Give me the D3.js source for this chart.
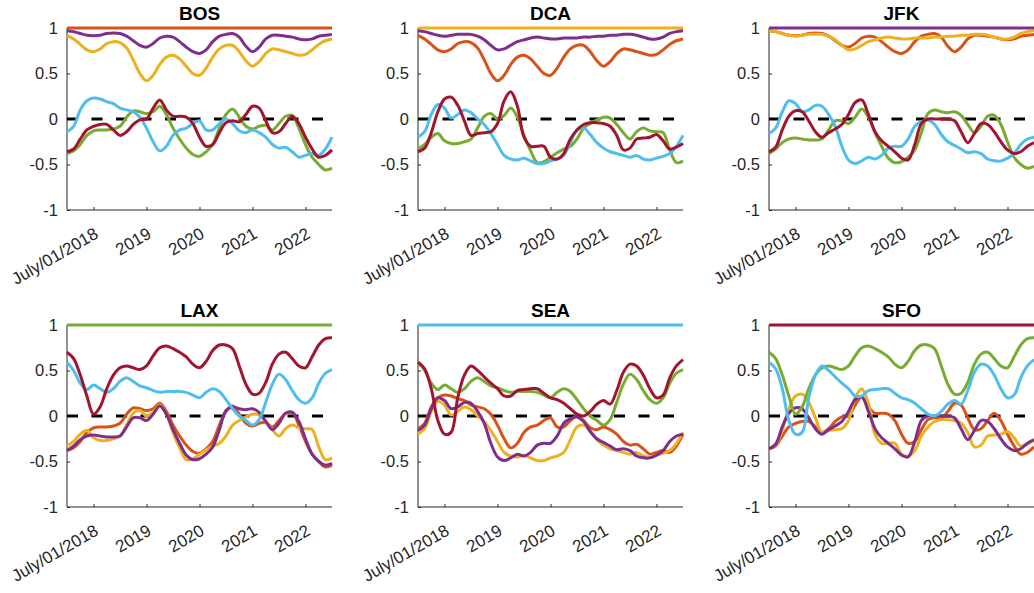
<!DOCTYPE html>
<html>
<head>
<meta charset="utf-8">
<script src="https://cdn.jsdelivr.net/npm/d3@7"></script>
<style>
  body { margin: 0; background: #fff; }
  svg { display: block; }
  text { font-family: "Liberation Sans", Arial, Helvetica, sans-serif; fill: #262626; }
</style>
</head>
<body>
<svg id="chart" width="1034" height="593"></svg>
<script>
// Rolling correlation between airport series, one panel per airport.
const airports = ["BOS", "DCA", "JFK", "LAX", "SEA", "SFO"];
const colors = ["#D95319", "#EDB120", "#7E2F8E", "#77AC30", "#4DBEEE", "#A2142F"];

const xTickValues = [1, 3, 5, 7, 9];
const xTickLabels = ["July/01/2018", "2019", "2020", "2021", "2022"];
const yTickValues = [-1, -0.5, 0, 0.5, 1];
const yTickLabels = ["-1", "-0.5", "0", "0.5", "1"];

// sample positions on the index axis (quarter steps from 0 to 10)
const samplePos = [0, 0.25, 0.5, 0.75, 1, 1.25, 1.5, 1.75, 2, 2.25, 2.5, 2.75, 3, 3.25, 3.5, 3.75,
  4, 4.25, 4.5, 4.75, 5, 5.25, 5.5, 5.75, 6, 6.25, 6.5, 6.75, 7, 7.25, 7.5, 7.75,
  8, 8.25, 8.5, 8.75, 9, 9.25, 9.5, 9.75, 10];

// correlation of an airport with itself
const SELF = [1, 1, 1, 1, 1, 1, 1, 1, 1, 1, 1, 1, 1, 1, 1, 1, 1, 1, 1, 1, 1,
  1, 1, 1, 1, 1, 1, 1, 1, 1, 1, 1, 1, 1, 1, 1, 1, 1, 1, 1, 1];

// pairwise correlations (symmetric)
const BOS_DCA = [0.92, 0.88, 0.82, 0.76, 0.74, 0.77, 0.83, 0.85, 0.84, 0.78, 0.65, 0.50, 0.42, 0.48, 0.60, 0.68,
  0.70, 0.66, 0.58, 0.50, 0.48, 0.56, 0.68, 0.77, 0.81, 0.81, 0.74, 0.64, 0.58, 0.63, 0.72, 0.77,
  0.76, 0.74, 0.72, 0.70, 0.71, 0.76, 0.82, 0.86, 0.88];
const BOS_JFK = [0.97, 0.96, 0.94, 0.92, 0.915, 0.92, 0.94, 0.945, 0.94, 0.91, 0.86, 0.81, 0.79, 0.83, 0.89, 0.91,
  0.90, 0.85, 0.79, 0.74, 0.72, 0.76, 0.85, 0.91, 0.93, 0.94, 0.90, 0.80, 0.74, 0.79, 0.88, 0.92,
  0.92, 0.91, 0.90, 0.88, 0.87, 0.88, 0.91, 0.92, 0.93];
const BOS_LAX = [-0.38, -0.35, -0.28, -0.18, -0.13, -0.12, -0.12, -0.11, -0.08, 0.02, 0.09, 0.08, 0.06, 0.08, 0.14, 0.05,
  -0.10, -0.22, -0.32, -0.39, -0.41, -0.36, -0.28, -0.10, 0.05, 0.11, 0.02, -0.08, -0.11, -0.08, -0.07, -0.12,
  -0.05, 0.03, 0.04, -0.10, -0.28, -0.42, -0.50, -0.56, -0.54];
const BOS_SEA = [-0.14, -0.08, 0.10, 0.20, 0.23, 0.22, 0.19, 0.17, 0.12, 0.10, 0.08, 0.02, -0.10, -0.25, -0.35, -0.30,
  -0.18, -0.12, -0.10, -0.05, -0.02, -0.12, -0.12, -0.05, 0.00, -0.05, -0.13, -0.15, -0.12, -0.15, -0.20, -0.28,
  -0.32, -0.31, -0.36, -0.42, -0.40, -0.38, -0.40, -0.33, -0.20];
const BOS_SFO = [-0.36, -0.33, -0.22, -0.12, -0.08, -0.06, -0.06, -0.12, -0.18, -0.14, -0.06, -0.01, 0.00, 0.12, 0.21, 0.10,
  0.03, 0.03, 0.02, -0.05, -0.20, -0.30, -0.28, -0.15, -0.04, -0.02, -0.03, 0.05, 0.14, 0.12, -0.02, -0.15,
  -0.14, -0.05, 0.03, -0.05, -0.20, -0.33, -0.42, -0.40, -0.34];
const DCA_JFK = [0.97, 0.96, 0.94, 0.92, 0.91, 0.92, 0.93, 0.93, 0.93, 0.91, 0.87, 0.81, 0.76, 0.77, 0.81, 0.85,
  0.87, 0.89, 0.90, 0.89, 0.88, 0.88, 0.89, 0.89, 0.89, 0.90, 0.90, 0.91, 0.91, 0.92, 0.92, 0.93,
  0.93, 0.92, 0.90, 0.88, 0.88, 0.90, 0.94, 0.96, 0.97];
const DCA_LAX = [-0.33, -0.28, -0.20, -0.16, -0.24, -0.27, -0.27, -0.25, -0.22, -0.10, 0.03, 0.06, 0.00, 0.04, 0.12, 0.02,
  -0.18, -0.35, -0.48, -0.47, -0.42, -0.37, -0.33, -0.30, -0.22, -0.10, -0.05, -0.01, 0.02, 0.01, -0.06, -0.15,
  -0.22, -0.14, -0.10, -0.13, -0.14, -0.15, -0.34, -0.48, -0.46];
const DCA_SEA = [-0.20, -0.14, 0.05, 0.16, 0.12, 0.01, 0.05, 0.10, 0.07, 0.00, -0.06, -0.16, -0.28, -0.40, -0.44, -0.45,
  -0.43, -0.46, -0.49, -0.49, -0.46, -0.44, -0.40, -0.26, -0.12, -0.10, -0.17, -0.26, -0.32, -0.36, -0.38, -0.40,
  -0.42, -0.40, -0.44, -0.45, -0.43, -0.41, -0.38, -0.30, -0.18];
const DCA_SFO = [-0.36, -0.32, -0.15, 0.08, 0.22, 0.24, 0.15, -0.02, -0.18, -0.16, -0.15, -0.14, -0.05, 0.20, 0.30, 0.14,
  -0.20, -0.30, -0.30, -0.30, -0.42, -0.44, -0.38, -0.22, -0.12, -0.06, -0.04, -0.04, -0.05, -0.08, -0.18, -0.34,
  -0.32, -0.22, -0.21, -0.20, -0.17, -0.24, -0.33, -0.31, -0.27];
const JFK_LAX = [-0.38, -0.33, -0.26, -0.22, -0.21, -0.22, -0.23, -0.23, -0.22, -0.12, -0.02, -0.02, -0.05, 0.02, 0.11, 0.02,
  -0.15, -0.30, -0.43, -0.48, -0.47, -0.42, -0.34, -0.15, 0.06, 0.10, 0.08, 0.07, 0.08, 0.04, -0.06, -0.15,
  -0.08, 0.03, 0.04, -0.06, -0.25, -0.42, -0.50, -0.54, -0.52];
const JFK_SEA = [-0.16, -0.10, 0.08, 0.20, 0.17, 0.08, 0.10, 0.15, 0.14, 0.05, -0.08, -0.30, -0.45, -0.49, -0.46, -0.42,
  -0.44, -0.40, -0.32, -0.30, -0.30, -0.22, -0.08, -0.03, -0.01, -0.06, -0.17, -0.25, -0.29, -0.33, -0.37, -0.36,
  -0.38, -0.44, -0.46, -0.46, -0.43, -0.38, -0.28, -0.22, -0.20];
const JFK_SFO = [-0.36, -0.31, -0.12, 0.03, 0.09, 0.08, -0.02, -0.14, -0.20, -0.15, -0.11, -0.06, 0.05, 0.18, 0.21, 0.05,
  -0.14, -0.24, -0.30, -0.36, -0.43, -0.45, -0.28, -0.05, 0.00, 0.00, 0.00, 0.00, -0.02, -0.14, -0.26, -0.16,
  -0.05, -0.06, -0.14, -0.25, -0.34, -0.38, -0.36, -0.30, -0.26];
const LAX_SEA = [0.59, 0.50, 0.36, 0.29, 0.34, 0.30, 0.26, 0.30, 0.38, 0.42, 0.38, 0.33, 0.31, 0.28, 0.26, 0.27,
  0.27, 0.27, 0.26, 0.23, 0.20, 0.26, 0.30, 0.27, 0.18, 0.08, 0.00, -0.05, -0.10, -0.04, 0.15, 0.35,
  0.46, 0.40, 0.28, 0.18, 0.14, 0.20, 0.36, 0.47, 0.51];
const LAX_SFO = [0.70, 0.63, 0.45, 0.22, 0.02, 0.10, 0.30, 0.45, 0.53, 0.55, 0.53, 0.51, 0.55, 0.66, 0.75, 0.77,
  0.74, 0.70, 0.65, 0.57, 0.53, 0.60, 0.72, 0.78, 0.78, 0.74, 0.55, 0.35, 0.24, 0.25, 0.37, 0.57,
  0.68, 0.70, 0.63, 0.55, 0.53, 0.65, 0.78, 0.85, 0.86];
const SEA_SFO = [0.59, 0.52, 0.30, -0.05, -0.20, -0.18, 0.20, 0.45, 0.55, 0.50, 0.43, 0.36, 0.30, 0.22, 0.22, 0.28,
  0.29, 0.30, 0.30, 0.25, 0.20, 0.18, 0.14, 0.08, 0.02, 0.00, 0.05, 0.13, 0.17, 0.13, 0.28, 0.48,
  0.57, 0.55, 0.45, 0.30, 0.20, 0.23, 0.42, 0.55, 0.62];

const pairTable = {
  "BOS|DCA": BOS_DCA, "BOS|JFK": BOS_JFK, "BOS|LAX": BOS_LAX, "BOS|SEA": BOS_SEA, "BOS|SFO": BOS_SFO,
  "DCA|JFK": DCA_JFK, "DCA|LAX": DCA_LAX, "DCA|SEA": DCA_SEA, "DCA|SFO": DCA_SFO,
  "JFK|LAX": JFK_LAX, "JFK|SEA": JFK_SEA, "JFK|SFO": JFK_SFO,
  "LAX|SEA": LAX_SEA, "LAX|SFO": LAX_SFO, "SEA|SFO": SEA_SFO
};
function correlation(a, b) {
  if (a === b) return SELF;
  return pairTable[a + "|" + b] || pairTable[b + "|" + a];
}

// panel geometry
const colLeft = [67, 418, 769];
const rowTop = [28, 325];
const plotW = 265, plotH = 182;
const axisColor = "#262626";

const svg = d3.select("#chart");

airports.forEach((name, i) => {
  const col = i % 3, row = Math.floor(i / 3);
  const g = svg.append("g").attr("transform", `translate(${colLeft[col]},${rowTop[row]})`);

  const x = d3.scaleLinear().domain([0, 10]).range([0, plotW]);
  const y = d3.scaleLinear().domain([-1, 1]).range([plotH, 0]);

  // x axis (ticks point inward)
  const xAxis = d3.axisBottom(x).tickValues(xTickValues).tickSize(-3).tickFormat(() => "");
  const gx = g.append("g").attr("transform", `translate(0,${plotH})`).call(xAxis);
  gx.select(".domain").attr("stroke", axisColor).attr("stroke-width", 1).attr("d", `M0,0H${plotW}`);
  gx.selectAll(".tick line").attr("stroke", axisColor);

  // y axis
  const yAxis = d3.axisLeft(y).tickValues(yTickValues).tickSize(-3).tickFormat(() => "");
  const gy = g.append("g").call(yAxis);
  gy.select(".domain").attr("stroke", axisColor).attr("stroke-width", 1).attr("d", `M0,0V${plotH}`);
  gy.selectAll(".tick line").attr("stroke", axisColor);

  // y tick labels
  g.append("g").selectAll("text").data(yTickValues).join("text")
    .attr("x", -9)
    .attr("y", d => y(d))
    .attr("dy", "0.36em")
    .attr("text-anchor", "end")
    .attr("font-size", 16.5)
    .text((d, k) => yTickLabels[k]);

  // rotated x tick labels
  g.append("g").selectAll("text").data(xTickValues).join("text")
    .attr("transform", d => `translate(${x(d) + 6},${plotH + 27}) rotate(-30)`)
    .attr("text-anchor", "end")
    .attr("font-size", 17)
    .text((d, k) => xTickLabels[k]);

  // zero reference line
  g.append("line")
    .attr("x1", x(0)).attr("x2", x(10))
    .attr("y1", y(0)).attr("y2", y(0))
    .attr("stroke", "#000")
    .attr("stroke-width", 3)
    .attr("stroke-dasharray", "11,13.5");

  // correlation curves
  const line = d3.line()
    .x((d, k) => x(samplePos[k]))
    .y(d => y(d))
    .curve(d3.curveCatmullRom.alpha(0.5));

  airports.forEach((other, j) => {
    g.append("path")
      .datum(correlation(name, other))
      .attr("fill", "none")
      .attr("stroke", colors[j])
      .attr("stroke-width", 3)
      .attr("stroke-linejoin", "round")
      .attr("d", line);
  });

  // panel title
  g.append("text")
    .attr("x", plotW / 2)
    .attr("y", -8)
    .attr("text-anchor", "middle")
    .attr("font-size", 19)
    .attr("font-weight", "bold")
    .style("fill", "#000")
    .text(name);
});
</script>
</body>
</html>
